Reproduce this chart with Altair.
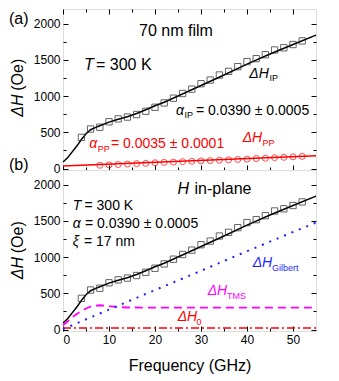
import altair as alt
import pandas as pd

# ---------------- data ----------------
freq_sq = [4, 6, 8, 10, 12, 14, 16, 18, 20, 22, 24, 26, 28, 30, 32, 34, 36, 38, 40, 42, 44, 46, 48, 50, 52]
dh_ip = [430, 545, 570, 645, 685, 710, 745, 790, 845, 905, 970, 1035, 1095, 1170, 1220, 1290, 1340, 1405,
         1475, 1515, 1570, 1635, 1665, 1710, 1760]

freq_fit = [0, 1, 2, 3, 4, 5, 6, 7, 8, 10, 12, 14, 16, 18, 20, 22, 25, 30, 35, 40, 45, 50, 55]
dh_fit = [90, 150, 230, 310, 400, 480, 535, 565, 590, 640, 680, 715, 760, 810, 865, 915, 1000, 1145,
          1290, 1440, 1580, 1710, 1840]

freq_pp = [8, 10, 12, 14, 16, 18, 20, 22, 24, 26, 28, 30, 32, 34, 36, 38, 40, 42, 44, 46, 48, 50, 52]
dh_pp = [45, 50, 55, 62, 68, 72, 80, 85, 88, 95, 100, 105, 110, 115, 120, 125, 130, 138, 142, 150, 155,
         162, 168]
freq_pp_fit = [0, 55]
dh_pp_fit = [34, 177]

freq_gil = [0, 10, 20, 30, 40, 50, 55]
dh_gil = [5, 275, 545, 810, 1080, 1345, 1475]

freq_tms = [0, 1, 2, 3, 4, 5, 6, 7, 8, 9, 10, 12, 14, 20, 30, 40, 55]
dh_tms = [60, 110, 170, 215, 255, 290, 315, 330, 335, 330, 322, 310, 304, 303, 303, 303, 303]

freq_h0 = [0, 55]
dh_h0 = [20, 20]

x_major = [0, 10, 20, 30, 40, 50]
x_minor = [5, 15, 25, 35, 45]
y_major = [0, 500, 1000, 1500, 2000]
y_minor = [250, 750, 1250, 1750]

X_DOMAIN = [0, 55]
Y_DOMAIN = [-20, 2200]
W, H = 253, 161
FONT = "Liberation Sans"

xs = alt.Scale(domain=X_DOMAIN, nice=False, zero=False)
ys = alt.Scale(domain=Y_DOMAIN, nice=False, zero=False)


def df_of(f, v):
    return pd.DataFrame({"f": f, "v": v})


def enc(xaxis=None, yaxis=None):
    return dict(x=alt.X("f:Q", scale=xs, axis=xaxis), y=alt.Y("v:Q", scale=ys, axis=yaxis))


def axis_layer(channel, orient, values, size, labels=False, title=None, **kw):
    ax = alt.Axis(orient=orient, values=values, tickSize=size, offset=-size, domain=False, grid=False,
                  labels=labels, ticks=True, tickColor="black", tickWidth=1, labelFont=FONT,
                  labelFontSize=12, labelColor="black", labelPadding=3, format="d", title=title, **kw)
    e = enc(xaxis=ax) if channel == "x" else enc(yaxis=ax)
    return alt.Chart(df_of([0], [0])).mark_point(opacity=0).encode(**e)


# reference pixel -> data coordinates for annotations
def fx(px):
    return (px - 62.0) / 253.0 * 55.0


def fy(py, top):
    return 2200.0 - (py - top) / 165.0 * 2220.0


def text_layers(items):
    rows = []
    for (px, py, top, txt, size, italic, color, align, baseline, angle) in items:
        rows.append(dict(f=fx(px), v=fy(py, top), text=txt, size=size, italic=italic, color=color,
                         align=align, baseline=baseline, angle=angle))
    d = pd.DataFrame(rows)
    layers = []
    for (italic, align, baseline, angle), g in d.groupby(["italic", "align", "baseline", "angle"]):
        mk = dict(font=FONT, align=align, baseline=baseline)
        if italic:
            mk["fontStyle"] = "italic"
        if angle:
            mk["angle"] = angle
        layers.append(
            alt.Chart(g.reset_index(drop=True)).mark_text(**mk).encode(
                text="text:N",
                size=alt.Size("size:Q", scale=None),
                color=alt.Color("color:N", scale=None),
                **enc())
        )
    return layers


K, R, B, M = "black", "#ff0000", "#1f1fff", "#ff00ff"
A = 3.0      # reference top of panel (a)
Bt = 168.0   # reference top of panel (b)

ann_a = [
    (175, 30.7, A, "70 nm film", 16, False, K, "center", "alphabetic", 0),
    (83, 65.7, A, "T", 16, True, K, "left", "alphabetic", 0),
    (95, 65.7, A, "= 300 K", 16, False, K, "left", "alphabetic", 0),
    (248.3, 73.3, A, "ΔH", 14, True, K, "left", "alphabetic", 0),
    (268.5, 76.5, A, "IP", 9, False, K, "left", "alphabetic", 0),
    (175, 111.7, A, "α", 14, True, K, "left", "alphabetic", 0),
    (183.5, 114.5, A, "IP", 9, False, K, "left", "alphabetic", 0),
    (195, 111.7, A, "= 0.0390 ± 0.0005", 14, False, K, "left", "alphabetic", 0),
    (88.3, 145.7, A, "α", 14, True, R, "left", "alphabetic", 0),
    (96.7, 149.5, A, "PP", 9, False, R, "left", "alphabetic", 0),
    (110, 145.7, A, "= 0.0035 ± 0.0001", 14, False, R, "left", "alphabetic", 0),
    (241.7, 139.3, A, "ΔH", 14, True, R, "left", "alphabetic", 0),
    (261.5, 143, A, "PP", 9, False, R, "left", "alphabetic", 0),
    (8, 18, A, "(a)", 16, False, K, "left", "alphabetic", 0),
    (17, 113.5, A, "ΔH", 16, True, K, "left", "middle", 270),
    (17, 86.8, A, "(Oe)", 16, False, K, "left", "middle", 270),
]

ann_b = [
    (176.5, 192.3, Bt, "H", 16, True, K, "left", "alphabetic", 0),
    (193.5, 192.3, Bt, "in-plane", 16, False, K, "left", "alphabetic", 0),
    (71.7, 209.3, Bt, "T", 14, True, K, "left", "alphabetic", 0),
    (83.5, 209.3, Bt, "= 300 K", 14, False, K, "left", "alphabetic", 0),
    (71.7, 227.7, Bt, "α", 14, True, K, "left", "alphabetic", 0),
    (84, 227.7, Bt, "= 0.0390 ± 0.0005", 14, False, K, "left", "alphabetic", 0),
    (71.7, 246, Bt, "ξ", 14, True, K, "left", "alphabetic", 0),
    (83, 246, Bt, "= 17 nm", 14, False, K, "left", "alphabetic", 0),
    (251.7, 267.5, Bt, "ΔH", 14, True, B, "left", "alphabetic", 0),
    (271, 271.5, Bt, "Gilbert", 9, False, B, "left", "alphabetic", 0),
    (206.7, 296, Bt, "ΔH", 14, True, M, "left", "alphabetic", 0),
    (226, 300, Bt, "TMS", 9, False, M, "left", "alphabetic", 0),
    (176.7, 322.7, Bt, "ΔH", 14, True, R, "left", "alphabetic", 0),
    (195.5, 326.7, Bt, "0", 9, False, R, "left", "alphabetic", 0),
    (8, 168.5, Bt, "(b)", 16, False, K, "left", "alphabetic", 0),
    (17, 280, Bt, "ΔH", 16, True, K, "left", "middle", 270),
    (17, 253.3, Bt, "(Oe)", 16, False, K, "left", "middle", 270),
]


def frame_axes(top_ticks, bottom_labels):
    layers = [
        axis_layer("y", "left", y_major, 5, labels=True),
        axis_layer("y", "left", y_minor, 3),
        axis_layer("y", "right", y_major, 5),
        axis_layer("y", "right", y_minor, 3),
        axis_layer("x", "bottom", x_minor, 3),
    ]
    if bottom_labels:
        layers.append(axis_layer("x", "bottom", x_major, 5, labels=True, title="Frequency (GHz)",
                                 titleFont=FONT, titleFontSize=16, titleFontWeight="normal",
                                 titleColor="black", titlePadding=12))
    else:
        layers.append(axis_layer("x", "bottom", x_major, 5))
    if top_ticks:
        layers.append(axis_layer("x", "top", x_major, 5))
        layers.append(axis_layer("x", "top", x_minor, 3))
    return layers


fit_line = alt.Chart(df_of(freq_fit, dh_fit)).mark_line(color=K, strokeWidth=1.5).encode(**enc())
squares = alt.Chart(df_of(freq_sq, dh_ip)).mark_point(shape="square", filled=False, size=40,
                                                        color="#222222", strokeWidth=1).encode(**enc())

# panel (a)
pp_line = alt.Chart(df_of(freq_pp_fit, dh_pp_fit)).mark_line(color=R, strokeWidth=1.5).encode(**enc())
pp_pts = alt.Chart(df_of(freq_pp, dh_pp)).mark_point(shape="circle", filled=False, size=36,
                                                      color=R, strokeWidth=1).encode(**enc())

panel_a = alt.layer(
    fit_line, squares, pp_line, pp_pts, *text_layers(ann_a), *frame_axes(True, False)
).resolve_axis(x="independent", y="independent").properties(width=W, height=H)

# panel (b)
h0_line = alt.Chart(df_of(freq_h0, dh_h0)).mark_line(color=R, strokeWidth=1.5,
                                                      strokeDash=[8, 3, 2, 3]).encode(**enc())
tms_line = alt.Chart(df_of(freq_tms, dh_tms)).mark_line(color=M, strokeWidth=1.8,
                                                         strokeDash=[8, 5]).encode(**enc())
gil_line = alt.Chart(df_of(freq_gil, dh_gil)).mark_line(color=B, strokeWidth=2,
                                                         strokeDash=[2, 6]).encode(**enc())

panel_b = alt.layer(
    h0_line, tms_line, gil_line, fit_line, squares, *text_layers(ann_b), *frame_axes(False, True)
).resolve_axis(x="independent", y="independent").properties(width=W, height=H)

chart = alt.vconcat(panel_a, panel_b, spacing=0, bounds="flush").properties(
    padding={"left": 0, "top": 0, "right": 0, "bottom": 0}
).configure_view(stroke="black", strokeWidth=1.5).configure(background="white")

chart.save("out.html", embed_options={"renderer": "svg", "actions": False})
